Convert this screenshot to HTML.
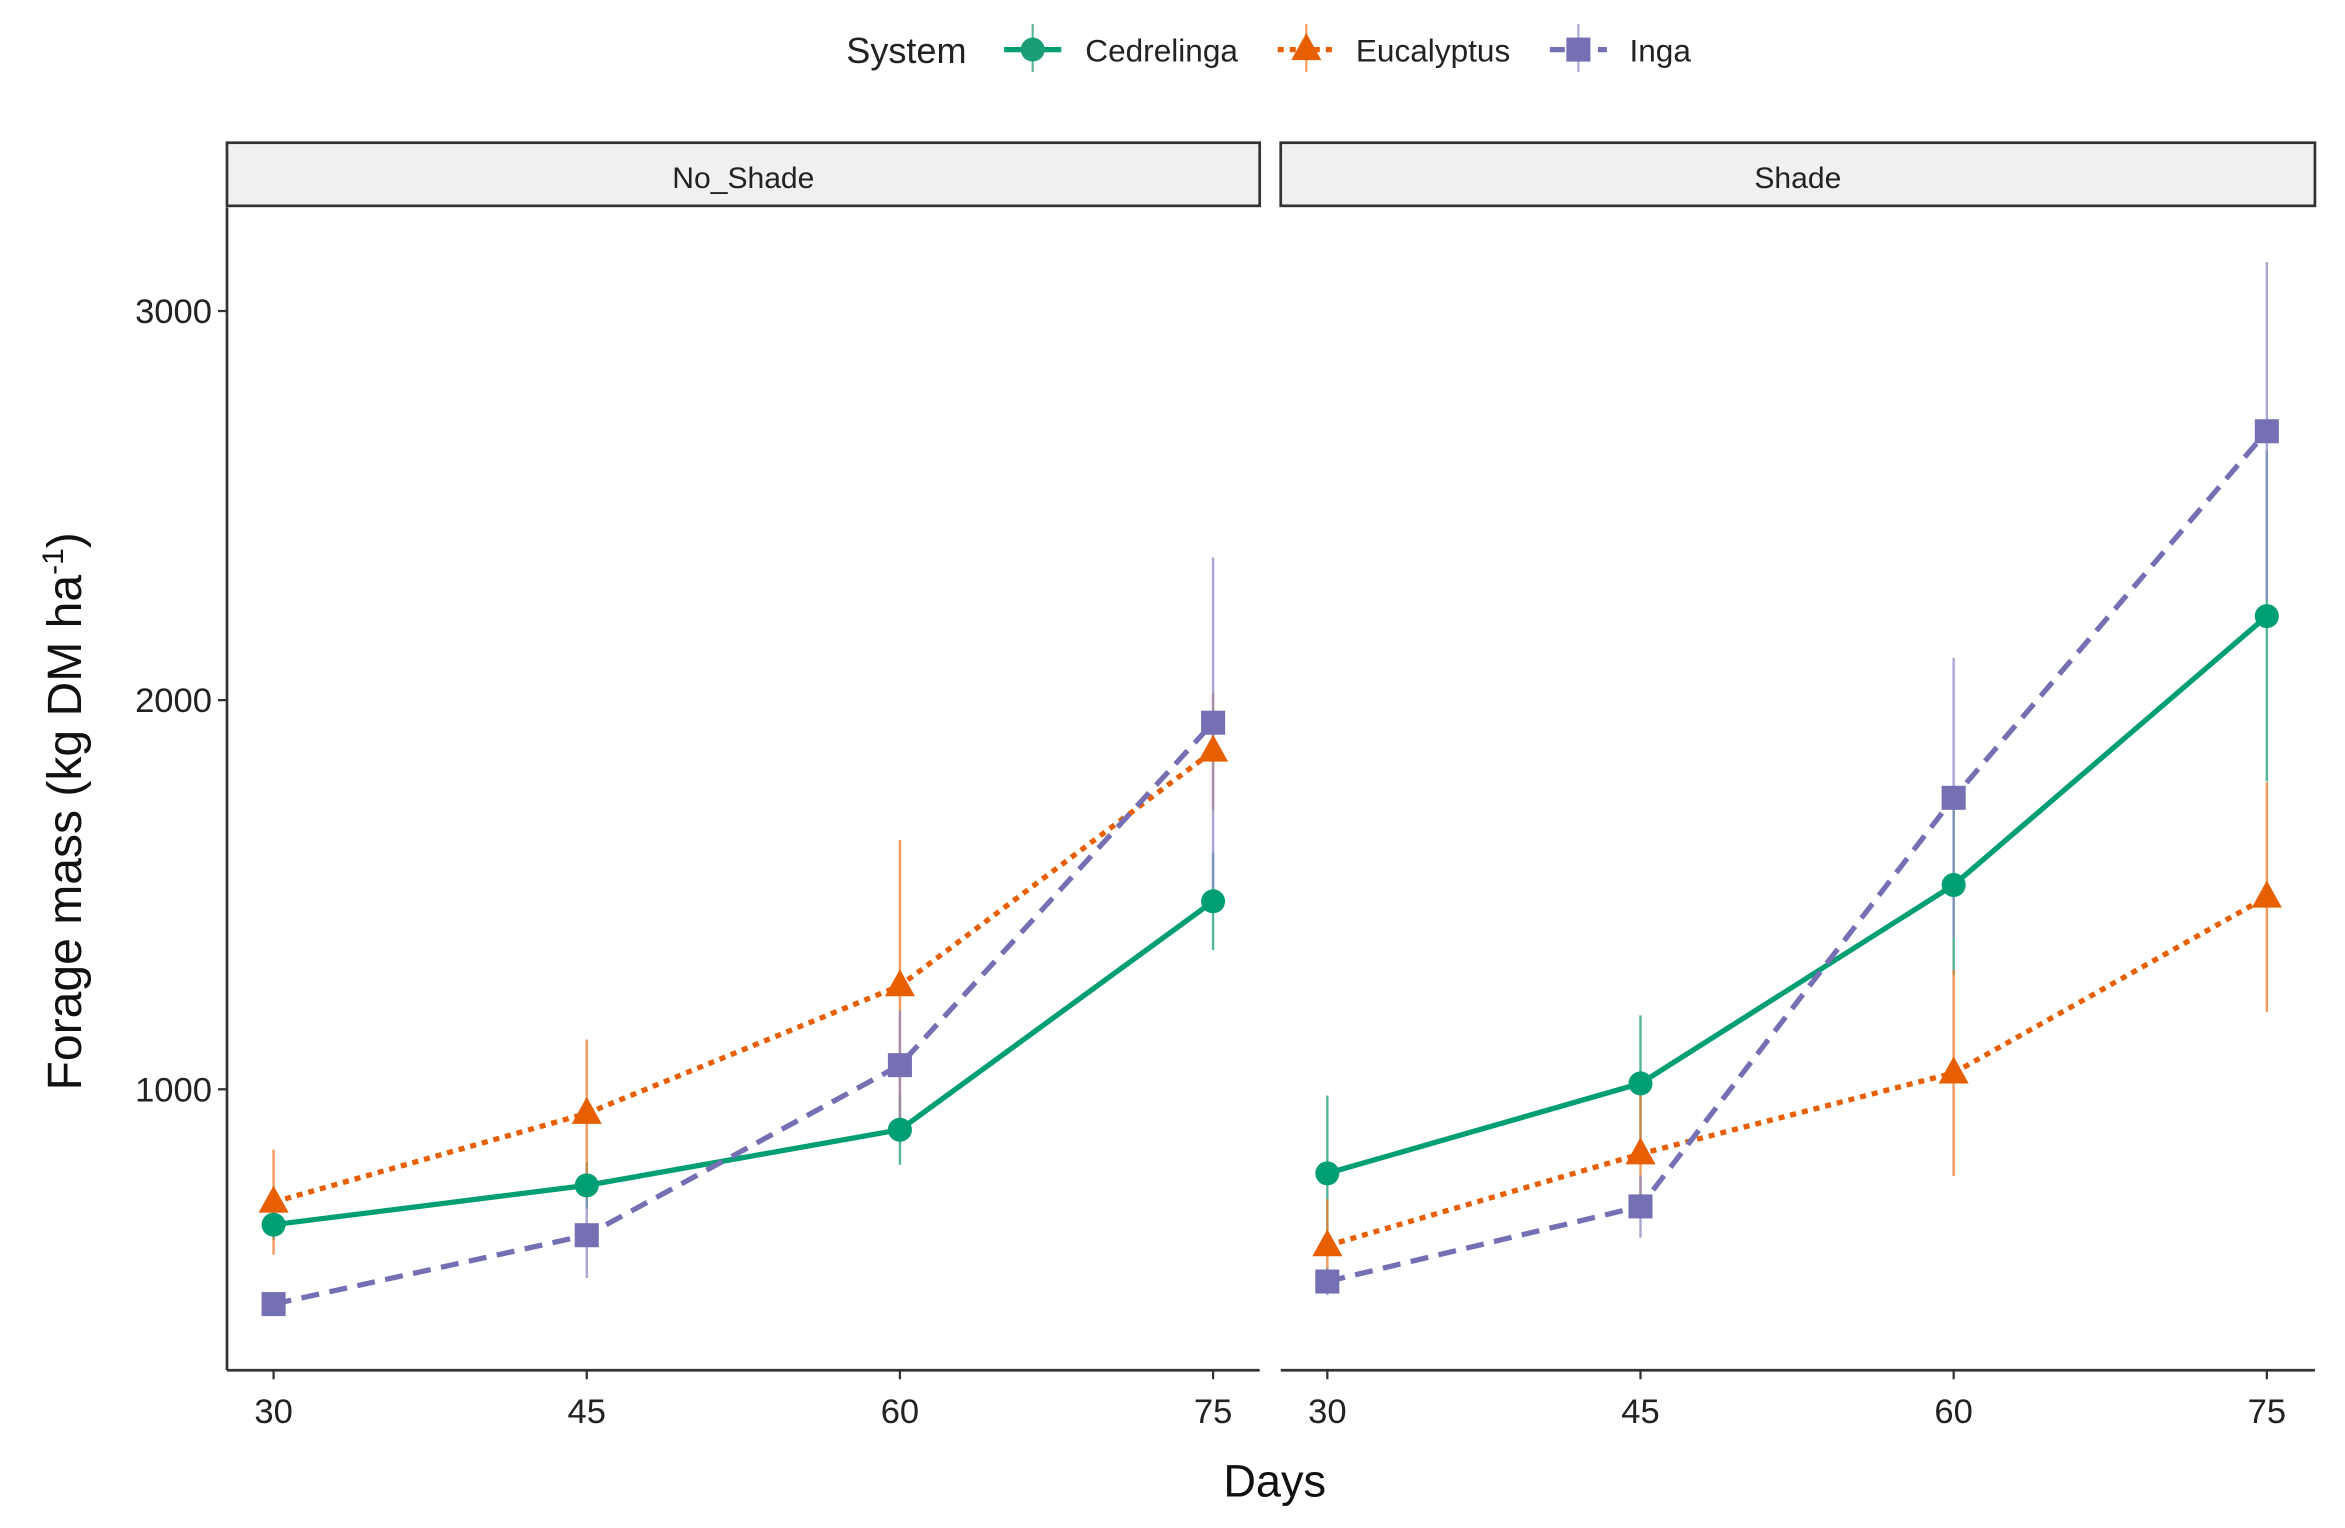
<!DOCTYPE html>
<html><head><meta charset="utf-8"><style>
html,body{margin:0;padding:0;background:#fff}
svg{display:block;font-family:"Liberation Sans",Arial,sans-serif}
</style></head><body>
<svg id="chart" width="2345" height="1528" viewBox="0 0 1560 1017" preserveAspectRatio="none" xmlns="http://www.w3.org/2000/svg">
<rect width="1560" height="1017" fill="#fff"/>
<g id="legend">
  <text x="563" y="42" font-size="24" fill="#222">System</text>
  <g>
    <line x1="668" y1="33" x2="706" y2="33" stroke="#009E73" stroke-width="3.5"/>
    <line x1="687" y1="16" x2="687" y2="48" stroke="#1B9E77" stroke-width="1.5" opacity="0.7"/>
    <circle cx="687" cy="33" r="8" fill="#1B9E77"/>
    <text x="722" y="41" font-size="21" fill="#222">Cedrelinga</text>
  </g>
  <g>
    <line x1="850" y1="33" x2="888" y2="33" stroke="#E75F00" stroke-width="3.5" stroke-dasharray="4 4"/>
    <line x1="869" y1="16" x2="869" y2="48" stroke="#F07A2A" stroke-width="1.5" opacity="0.7"/>
    <polygon points="869,22 879,40 859,40" fill="#E75F00"/>
    <text x="902" y="41" font-size="21" fill="#222">Eucalyptus</text>
  </g>
  <g>
    <line x1="1031" y1="33" x2="1069" y2="33" stroke="#7570B3" stroke-width="3.5" stroke-dasharray="10 6"/>
    <line x1="1050" y1="16" x2="1050" y2="48" stroke="#8d89c3" stroke-width="1.5" opacity="0.7"/>
    <rect x="1042" y="25" width="16" height="16" fill="#7570B3"/>
    <text x="1084" y="41" font-size="21" fill="#222">Inga</text>
  </g>
</g>
<g id="panels"></g>
<text x="0" y="0" transform="translate(54,540) rotate(-90)" text-anchor="middle" font-size="32" fill="#111">Forage mass (kg DM ha<tspan font-size="20" dy="-12">-1</tspan><tspan dy="12">)</tspan></text>
<text x="848" y="996" text-anchor="middle" font-size="30" fill="#111">Days</text>
</svg>
<script>
const days = [30, 45, 60, 75];
const panelNames = ["No_Shade", "Shade"];
const yTicks = [1000, 2000, 3000];
const seriesNames = ["Cedrelinga", "Eucalyptus", "Inga"];
// values per panel
const cedNo = [652, 753, 896, 1483];
const eucNo = [710, 938, 1266, 1869];
const ingaNo = [448, 625, 1062, 1942];
const cedSh = [784, 1015, 1525, 2216];
const eucSh = [598, 834, 1042, 1494];
const ingaSh = [506, 699, 1749, 2691];
// error half-widths
const cedNoErr = [40, 60, 90, 125];
const eucNoErr = [135, 190, 375, 150];
const ingaNoErr = [30, 110, 140, 425];
const cedShErr = [200, 175, 230, 425];
const eucShErr = [120, 150, 265, 295];
const ingaShErr = [35, 80, 360, 435];

const NS = "http://www.w3.org/2000/svg";
const root = document.getElementById("panels");
const panels = [
  {x0: 151, x1: 838, title: panelNames[0], data: [cedNo, eucNo, ingaNo], err: [cedNoErr, eucNoErr, ingaNoErr], ax: 182},
  {x0: 852, x1: 1540, title: panelNames[1], data: [cedSh, eucSh, ingaSh], err: [cedShErr, eucShErr, ingaShErr], ax: 883}
];
const yTop = 138, yBot = 912;
function yScale(v){ return 725 - (v - 1000) * 0.259; }
const styles = [
  {color: "#009E73", bar: "#1B9E77", dash: null},
  {color: "#E75F00", bar: "#F07A2A", dash: "4 4"},
  {color: "#7570B3", bar: "#8d89c3", dash: "12 7"}
];
function mk(tag, attrs, parent){
  const e = document.createElementNS(NS, tag);
  for (const k in attrs) e.setAttribute(k, attrs[k]);
  parent.appendChild(e);
  return e;
}
panels.forEach((p, pi) => {
  const xScale = d => p.ax + (d - 30) * (625 / 45);
  const g = mk("g", {}, root);
  
  
  const strip = mk("rect", {x: p.x0, y: 95, width: p.x1 - p.x0, height: 42, fill: "#f0f0f0", stroke: "#333", "stroke-width": 1.8}, g);
  
  
  const st = mk("text", {x: (p.x0 + p.x1) / 2, y: 125, "text-anchor": "middle", "font-size": 20, fill: "#222"}, g);
  st.textContent = p.title;
  
  
  // axes
  mk("line", {x1: p.x0, y1: yBot, x2: p.x1, y2: yBot, stroke: "#333", "stroke-width": 1.8}, g);
  if (pi === 0) {
    mk("line", {x1: p.x0, y1: yTop, x2: p.x0, y2: yBot, stroke: "#333", "stroke-width": 1.8}, g);
    yTicks.forEach(v => {
      const y = yScale(v);
      mk("line", {x1: p.x0 - 6, y1: y, x2: p.x0, y2: y, stroke: "#333", "stroke-width": 1.5}, g);
      const t = mk("text", {x: p.x0 - 10, y: y + 8, "text-anchor": "end", "font-size": 23, fill: "#222"}, g);
      t.textContent = v;
      
      
    });
  }
  days.forEach(d => {
    const x = xScale(d);
    mk("line", {x1: x, y1: yBot, x2: x, y2: yBot + 6, stroke: "#333", "stroke-width": 1.5}, g);
    const t = mk("text", {x: x, y: yBot + 35, "text-anchor": "middle", "font-size": 23, fill: "#222"}, g);
    t.textContent = d;
    
    
  });
  // error bars
  p.data.forEach((vals, si) => {
    vals.forEach((v, i) => {
      const x = xScale(days[i]);
      const l = mk("line", {x1: x, x2: x, y1: yScale(v + p.err[si][i]), y2: yScale(v - p.err[si][i]), stroke: styles[si].bar, "stroke-width": 1.6, opacity: 0.75}, g);
      
      
    });
  });
  // lines
  p.data.forEach((vals, si) => {
    const pts = vals.map((v, i) => xScale(days[i]) + "," + yScale(v)).join(" ");
    const attrs = {points: pts, fill: "none", stroke: styles[si].color, "stroke-width": 3.5};
    if (styles[si].dash) attrs["stroke-dasharray"] = styles[si].dash;
    const pl = mk("polyline", attrs, g);
    
    
  });
  // points
  p.data.forEach((vals, si) => {
    vals.forEach((v, i) => {
      const x = xScale(days[i]), y = yScale(v);
      let m;
      if (si === 0) m = mk("circle", {cx: x, cy: y, r: 8, fill: styles[0].color}, g);
      else if (si === 1) m = mk("polygon", {points: `${x},${y-11} ${x+10},${y+7} ${x-10},${y+7}`, fill: styles[1].color}, g);
      else m = mk("rect", {x: x - 8, y: y - 8, width: 16, height: 16, fill: styles[2].color}, g);
      
      
    });
  });
});
</script>
</body></html>
